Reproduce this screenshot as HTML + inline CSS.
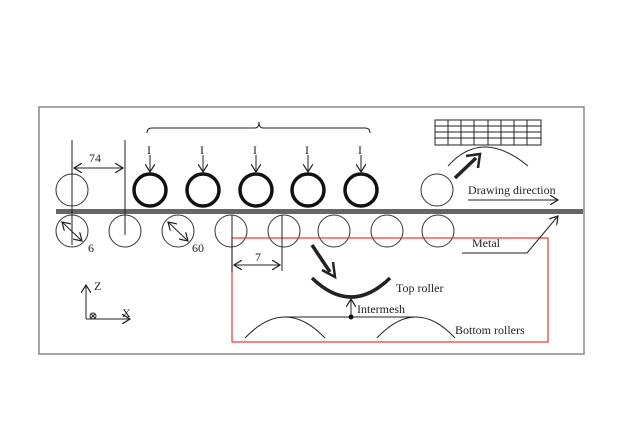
<!DOCTYPE html><html><head><style>body{margin:0;background:#fff}svg{display:block}text{font-family:"Liberation Serif",serif;fill:#222}</style></head><body>
<svg width="624" height="436" viewBox="0 0 624 436" xmlns="http://www.w3.org/2000/svg">
<defs><marker id="a" markerWidth="10" markerHeight="10" refX="8" refY="5" orient="auto-start-reverse" markerUnits="userSpaceOnUse"><path d="M0,0 L8,5 L0,10" fill="none" stroke="#222" stroke-width="1.2"/></marker></defs>
<rect x="39" y="107" width="545" height="247" fill="none" stroke="#888" stroke-width="1.5"/>
<g fill="none" stroke="#333" stroke-width="1">
<circle cx="72" cy="190" r="16"/><circle cx="437" cy="190" r="16"/>
<circle cx="72" cy="231" r="16"/><circle cx="125" cy="231" r="16"/><circle cx="178" cy="231" r="16"/><circle cx="231" cy="231" r="16"/><circle cx="284" cy="231" r="16"/><circle cx="334" cy="231" r="16"/><circle cx="387" cy="231" r="16"/><circle cx="438" cy="231" r="16"/>
</g>
<g fill="none" stroke="#111" stroke-width="3.5">
<circle cx="150" cy="190" r="16"/><circle cx="203" cy="190" r="16"/><circle cx="256" cy="190" r="16"/><circle cx="308" cy="190" r="16"/><circle cx="361" cy="190" r="16"/>
</g>
<rect x="56" y="209" width="527" height="5" fill="#666"/>
<rect x="232" y="238" width="316" height="104" fill="none" stroke="#e33" stroke-width="1.2"/>
<g stroke="#222" stroke-width="1" fill="none">
<line x1="72" y1="140" x2="72" y2="245"/><line x1="125" y1="140" x2="125" y2="235"/>
<line x1="74" y1="168" x2="123" y2="168" marker-start="url(#a)" marker-end="url(#a)"/>
<path d="M147,133 Q147,128 152,128 L255,128 Q259,128 259,122 Q259,128 263,128 L365,128 Q370,128 370,133"/>
<line x1="150" y1="155" x2="150" y2="172" marker-end="url(#a)"/><line x1="203" y1="155" x2="203" y2="172" marker-end="url(#a)"/><line x1="256" y1="155" x2="256" y2="172" marker-end="url(#a)"/><line x1="308" y1="155" x2="308" y2="172" marker-end="url(#a)"/><line x1="361" y1="155" x2="361" y2="172" marker-end="url(#a)"/>
<line x1="62" y1="222" x2="82" y2="241" marker-start="url(#a)" marker-end="url(#a)"/>
<line x1="168" y1="222" x2="188" y2="241" marker-start="url(#a)" marker-end="url(#a)"/>
<line x1="232" y1="215" x2="232" y2="272"/><line x1="282" y1="215" x2="282" y2="271"/>
<line x1="234" y1="265" x2="280" y2="265" marker-start="url(#a)" marker-end="url(#a)"/>
<line x1="86" y1="319" x2="86" y2="285" marker-end="url(#a)"/><line x1="86" y1="319" x2="130" y2="319" marker-end="url(#a)"/>
<circle cx="93" cy="316" r="3"/><path d="M91,314 L95,318 M95,314 L91,318"/>
<line x1="312" y1="245" x2="330" y2="272" stroke-width="3.5"/>
<path d="M322,270 L335,277 L333,262" stroke-width="2.5"/>
<path d="M312,278 Q351,316 390,278" stroke-width="3.5"/>
<line x1="351" y1="317" x2="351" y2="299" marker-end="url(#a)"/>
<line x1="285" y1="317" x2="416" y2="317"/>
<path d="M245,338 Q285,296 325,338"/><path d="M377,338 Q416,296 455,338"/>
<path d="M448,166 Q482,128 528,166"/>
<line x1="455" y1="178" x2="476" y2="158" stroke-width="3.5"/><path d="M466,156 L480,154 L478,168" stroke-width="2.5"/>
<line x1="468" y1="200" x2="558" y2="200" marker-end="url(#a)"/>
<path d="M462,253 L527,253 L558,216" marker-end="url(#a)"/>
<rect x="435" y="120" width="106" height="25"/>
<path d="M435,126 H541 M435,132 H541 M435,138 H541 M448,120 V145 M461,120 V145 M474,120 V145 M488,120 V145 M501,120 V145 M514,120 V145 M527,120 V145"/>
</g>
<circle cx="351" cy="317" r="2.5" fill="#111"/>
<g font-size="12">
<text x="89" y="162">74</text>
<text x="147" y="154">I</text><text x="200" y="154">I</text><text x="253" y="154">I</text><text x="305" y="154">I</text><text x="358" y="154">I</text>
<text x="88" y="252">6</text><text x="192" y="252">60</text><text x="255" y="261">7</text>
<text x="94" y="290">Z</text><text x="122" y="317">X</text>
<text x="468" y="194">Drawing direction</text>
<text x="472" y="247">Metal</text>
<text x="396" y="292">Top roller</text>
<text x="357" y="313">Intermesh</text>
<text x="455" y="334">Bottom rollers</text>
</g>
</svg></body></html>
